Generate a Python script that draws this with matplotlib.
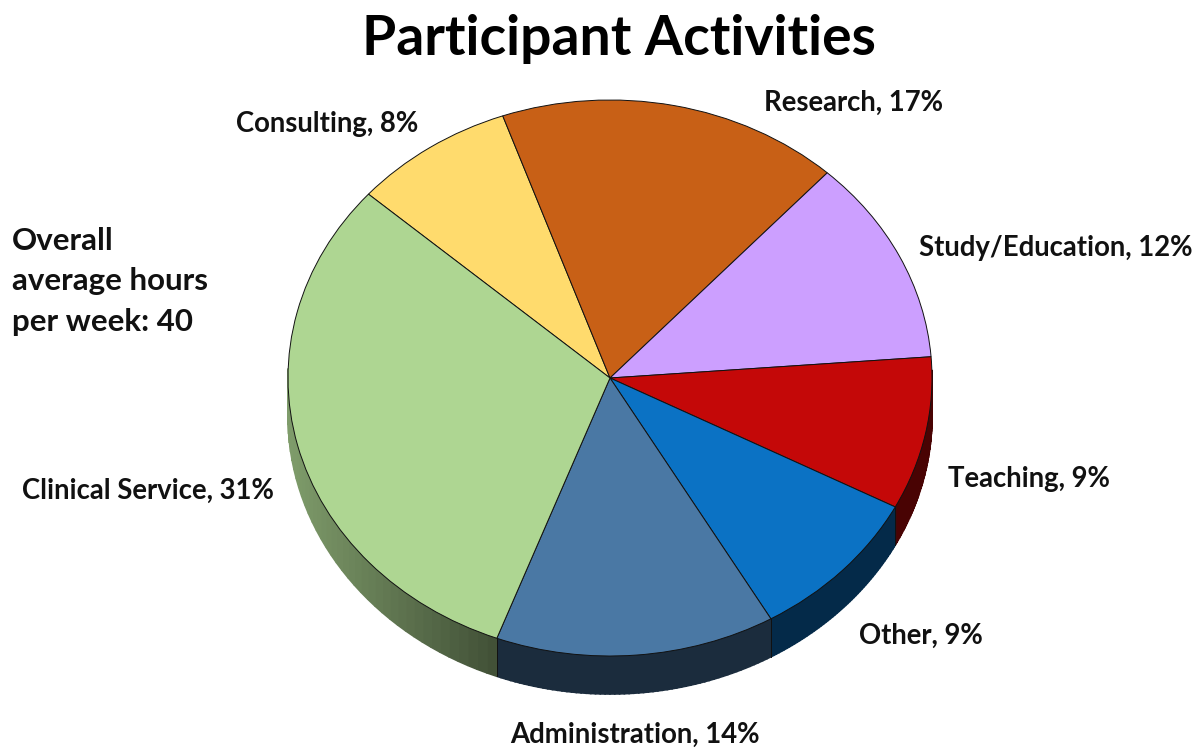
#!/usr/bin/env python
import matplotlib
matplotlib.use('Agg')
import matplotlib.pyplot as plt
import numpy as np
from matplotlib.colors import to_rgb

labels = ['Consulting', 'Research', 'Study/Education', 'Teaching', 'Other', 'Administration', 'Clinical Service']
percents = [8, 17, 12, 9, 9, 14, 31]
#slice sizes as measured on the picture, the labels are rounded
values = [8.1, 17.2, 12.0, 8.9, 9.0, 14.05, 30.8]
colors = ['#FFDB6D', '#C86016', '#CC9FFF', '#C40808', '#0B72C4', '#4A78A4', '#AED692']
title = 'Participant Activities'
note = 'Overall\naverage hours\nper week: 40'

plt.rcParams['font.family'] = ['Lato', 'DejaVu Sans']

fig = plt.figure(figsize=(11.94, 7.48), dpi=100)
ax = fig.add_axes([0, 0, 1, 1])

#the pie is squashed, one data unit is rx across and ry up
rx, ry = 322, 278
cx, cy = 610, 748 - 378
depth = 38
start = 138.6
scale = 360.0 / sum(values)

#side wall first, only the part that faces us
ang = start
for v, c in zip(values, colors):
    sweep = v * scale
    t = np.linspace(ang, ang - sweep, 60)
    base = np.array(to_rgb(c))
    for a, b in zip(t[:-1], t[1:]):
        if np.sin(np.radians(a)) > 0.02 and np.sin(np.radians(b)) > 0.02:
            continue
        #lighter towards the left end of the wall
        m = np.cos(np.radians((a + b) / 2))
        shade = 0.37 + 0.36 * max(0.0, (-m - 0.35) / 0.65)
        xs = cx + rx * np.cos(np.radians([a, b]))
        ys = cy + ry * np.sin(np.radians([a, b]))
        ax.fill(np.r_[xs, xs[::-1]], np.r_[ys, ys[::-1] - depth], facecolor=base * shade,
                edgecolor=base * shade, lw=1.2, zorder=1)
    ang -= sweep

#edges of the wall between slices
ang = start
for v in values:
    s = np.sin(np.radians(ang))
    if s < 0:
        x = cx + rx * np.cos(np.radians(ang))
        y = cy + ry * s
        ax.plot([x, x], [y, y - depth], color='#111111', lw=0.7, zorder=2)
    ang -= v * scale

wedges, _ = ax.pie(values, colors=colors, startangle=start, counterclock=False,
                   center=(cx, cy), radius=1,
                   wedgeprops=dict(edgecolor='#111111', linewidth=0.7, zorder=3))
for w in wedges:
    w.set_transform(matplotlib.transforms.Affine2D().translate(-cx, -cy).scale(rx, ry).translate(cx, cy) + ax.transData)

ax.set_aspect('auto')
ax.set_xlim(0, 1194)
ax.set_ylim(0, 748)
ax.axis('off')

ax.text(619, 748 - 39, title, fontsize=39.8, fontweight='bold', ha='center', va='center', color='black')
for line, y in zip(note.split('\n'), [241, 281, 322]):
    ax.text(12, 748 - y, line, fontsize=22.5, fontweight='bold', ha='left', va='center', color='#111111')

#label centres
label_pos = [(327, 124), (853, 103), (1056, 248), (1029, 479), (921, 636), (635, 735), (148, 491)]
for name, p, (x, y) in zip(labels, percents, label_pos):
    ax.text(x, 748 - y, '%s, %d%%' % (name, p), fontsize=19.8, fontweight='bold', ha='center', va='center', color='#111111')

fig.savefig('out.png', dpi=100)
